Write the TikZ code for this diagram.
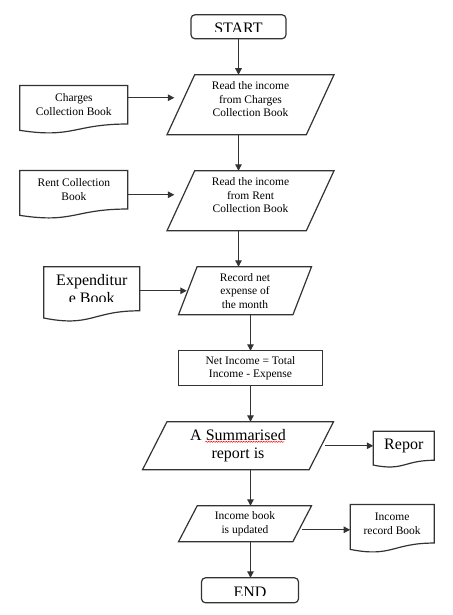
\documentclass[tikz,border=0pt]{standalone}
\usepackage{fontspec}
\setmainfont{Liberation Serif}
\usetikzlibrary{arrows.meta,positioning,shapes.geometric,calc,decorations.pathmorphing}

\begin{document}
\begin{tikzpicture}[
  x=1pt, y=-1pt,
  every node/.style={outer sep=0pt},
  line/.style={draw=black!80, line width=1.2pt},
  small/.style={font=\fontsize{11.5}{13.5}\selectfont, align=center},
  big/.style={font=\fontsize{16}{18}\selectfont, align=center},
  termbox/.style={line, rounded corners=4pt, minimum width=95pt, minimum height=24pt},
  iobox/.style={line, trapezium, trapezium stretches body, inner sep=1pt, small},
  procbox/.style={line, rectangle, minimum width=144pt, minimum height=35pt, small},
  docbox/.style={rectangle, inner sep=0pt, small},
  arrow/.style={line, -{Triangle[length=6.5pt,width=6.5pt]}}
]
\useasboundingbox (0,0) rectangle (452,615);

% main column
\node[termbox] (start) at (238.5,26.75) {};
\node[iobox, trapezium left angle=60, trapezium right angle=120, minimum width=167pt, minimum height=60pt, text depth=11pt, below=36pt of start, xshift=12pt] (readcharges) {Read the income\\from Charges\\Collection Book};
\node[iobox, trapezium left angle=60, trapezium right angle=120, minimum width=167pt, minimum height=60pt, text depth=11pt, below=36pt of readcharges] (readrent) {Read the income\\from Rent\\Collection Book};
\node[iobox, trapezium left angle=63.4, trapezium right angle=116.6, minimum width=133pt, minimum height=48pt, below=36pt of readrent, xshift=-5.5pt] (expense) {Record net\\expense of\\the month};
\node[procbox, below=36pt of expense, xshift=5.5pt] (netincome) {Net Income = Total\\Income - Expense};
\node[iobox, big, trapezium left angle=54.7, trapezium right angle=125.3, minimum width=191pt, minimum height=48pt, below=36pt of netincome, xshift=-12.5pt] (summary) {A Summarised\\report is};
\node[iobox, trapezium left angle=54.2, trapezium right angle=125.8, minimum width=133pt, minimum height=36pt, below=36pt of summary, xshift=7pt] (update) {Income book\\is updated};
\node[termbox, minimum width=97pt, minimum height=25pt, below=36pt of update, xshift=5pt] (stop) {};

% clipped terminal texts
\begin{scope}
  \clip (start.north west) rectangle ([yshift=7pt]start.south east);
  \node[big, anchor=base] (starttext) at ([yshift=5pt]start.south) {START};
\end{scope}
\begin{scope}
  \clip (stop.north west) rectangle ([yshift=7pt]stop.south east);
  \node[big, anchor=base] (stoptext) at ([yshift=5pt]stop.south) {END};
\end{scope}

% documents
\node[docbox, minimum width=108pt, minimum height=38.5pt, left=53pt of readcharges] (charges) {Charges\\Collection Book};
\node[docbox, minimum width=108pt, minimum height=38.5pt, left=53pt of readrent, yshift=11pt] (rent) {Rent Collection\\Book};
\node[docbox, minimum width=96pt, minimum height=44pt, left=48pt of expense, yshift=2pt] (expend) {};
\node[docbox, big, minimum width=61pt, minimum height=29pt, right=52pt of summary] (report) {Repor};
\node[docbox, minimum width=84pt, minimum height=38.5pt, right=48pt of update] (record) {Income\\record Book};

\begin{scope}
  \clip (expend.north west) rectangle ([yshift=9.5pt]expend.south east);
  \node[big] (expendtext) at (expend.center) {Expenditur\\e Book};
\end{scope}

\foreach \d in {charges,rent,expend,report,record}
  \draw[line] let \p1=($(\d.north)-(\d.south)$) in
    (\d.north west) -- (\d.north east) -- (\d.south east)
    .. controls (\d.south) and ($(\d.south)-(0pt,.38*\y1)$) ..
    ($(\d.south west)-(0pt,.165*\y1)$) -- cycle;

% spelling mark
\draw[red, line width=0.5pt, decorate, decoration={snake, amplitude=0.6pt, segment length=2.5pt}]
  ([xshift=-32.5pt,yshift=4pt]summary.center) -- ([xshift=46.5pt,yshift=4pt]summary.center);

% flow
\draw[arrow] (start.south) -- (start.south |- readcharges.north);
\draw[arrow] (start.south |- readcharges.south) -- (start.south |- readrent.north);
\draw[arrow] (start.south |- readrent.south) -- (start.south |- expense.north);
\draw[arrow] (netincome.north |- expense.south) -- (netincome.north);
\draw[arrow] (netincome.south) -- (netincome.south |- summary.north);
\draw[arrow] (netincome.south |- summary.south) -- (netincome.south |- update.north);
\draw[arrow] (netincome.south |- update.south) -- (netincome.south |- stop.north);

\draw[arrow, shorten >=6.5pt] ([yshift=7pt]charges.east) -- ([yshift=7pt]charges.east -| readcharges.west);
\draw[arrow, shorten >=6.5pt] ([yshift=-5pt]rent.east) -- ([yshift=-5pt]rent.east -| readrent.west);
\draw[arrow, shorten >=1pt] ([yshift=-2pt]expend.east) -- ([yshift=-2pt]expend.east -| expense.west);
\draw[arrow, shorten <=3.5pt] (summary.east) -- (summary.east -| report.west);
\draw[arrow] ([yshift=-6pt]update.east) -- ([yshift=-6pt]update.east -| record.west);
\end{tikzpicture}
\end{document}
